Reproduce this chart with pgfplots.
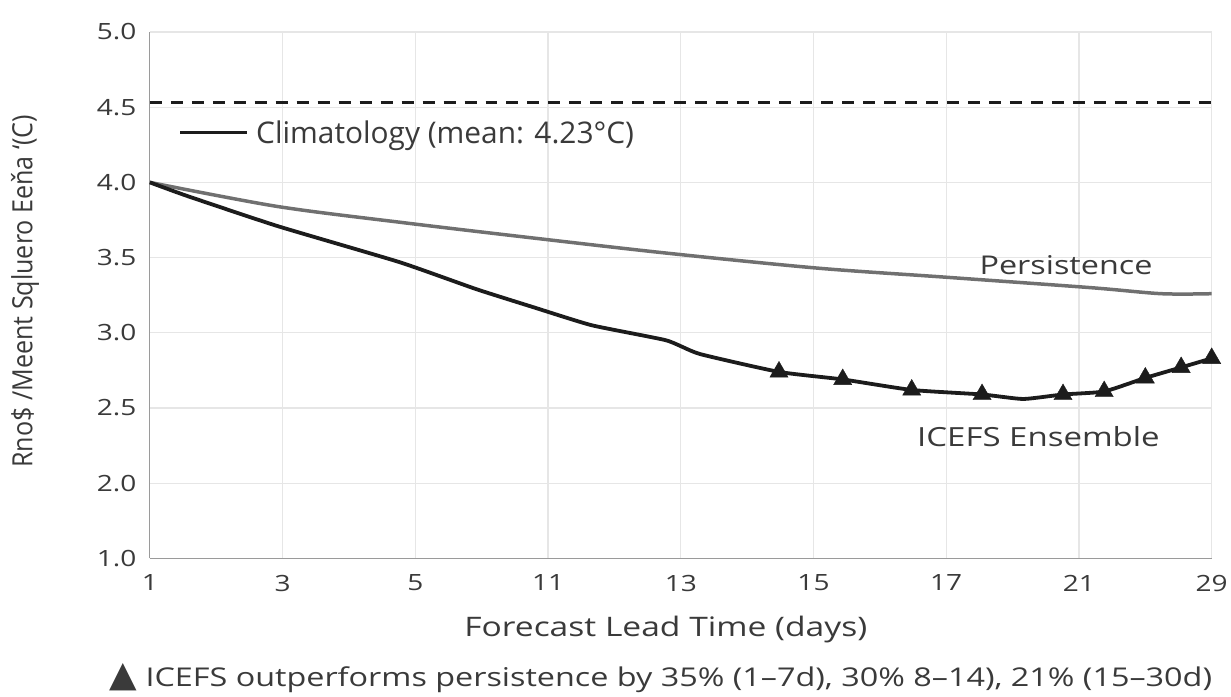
\documentclass[border=0pt]{standalone}
\usepackage{fontspec}
\setmainfont{Open Sans}[FakeStretch=1.25]
\newfontfamily\plainfont{Open Sans}
\newfontfamily\condfont[FakeStretch=0.9]{Open Sans}
\newfontfamily\symfont{DejaVu Sans}
\usepackage{pgfplots}
\pgfplotsset{compat=1.18}

\definecolor{txt}{HTML}{3A3A3A}
\definecolor{ensline}{HTML}{1C1C1C}
\definecolor{persline}{HTML}{707070}
\definecolor{gridc}{HTML}{E6E6E6}
\definecolor{axc}{HTML}{9A9A9A}

\newcommand{\fs}[1]{\fontsize{#1}{#1}\selectfont}

\begin{document}
\begin{tikzpicture}
\begin{axis}[
    name=ax,
    scale only axis,
    width=1063bp, height=527bp,
    xmin=0, xmax=8,
    ymin=1.5, ymax=5,
    xtick={0,...,8},
    xticklabels={1,3,5,11,13,15,17,21,29},
    ytick={1.5,2,2.5,3,3.5,4,4.5,5},
    yticklabels={1.0,2.0,2.5,3.0,3.5,4.0,4.5,5.0},
    major tick length=0pt,
    axis lines*=left,
    axis line style={axc, line width=1.3bp},
    grid=major,
    grid style={gridc, line width=1.2bp},
    tick label style={font=\fs{22.5}, text=txt},
    yticklabel style={xshift=-10bp},
    xticklabel style={yshift=-13bp},
    clip=false,
]

% climatology reference (dashed)
\addplot[ensline, line width=2.6bp, dash pattern=on 12bp off 9bp] coordinates {(0,4.53) (8,4.53)};

% persistence
\addplot[persline, line width=3.5bp, smooth] coordinates {
    (0,4.00) (0.96,3.84) (1.93,3.73) (2.89,3.63) (3.89,3.53)
    (5.03,3.43) (5.99,3.37) (7.09,3.30) (7.62,3.26) (8,3.26)
};

% ICEFS ensemble
\addplot[ensline, line width=3.8bp, smooth, tension=0.3] coordinates {
    (0,4.00) (0.28,3.91) (0.96,3.71) (1.88,3.47) (2.46,3.29) (2.89,3.17)
    (3.33,3.05) (3.89,2.95) (4.14,2.86) (4.74,2.74) (5.22,2.69)
    (5.74,2.62) (6.27,2.59) (6.58,2.56) (6.88,2.59) (7.19,2.61)
    (7.5,2.70) (7.77,2.77) (8,2.83)
};
\addplot[only marks, mark=triangle*, mark size=10.5bp, ensline] coordinates {
    (4.74,2.74) (5.22,2.69) (5.74,2.62) (6.27,2.59) (6.88,2.59)
    (7.19,2.61) (7.5,2.70) (7.77,2.77) (8,2.83)
};

% legend key and labels
\draw[ensline, line width=3.5bp] (axis cs:0.23,4.33) -- (axis cs:0.73,4.33);
\node[anchor=west, text=txt, font=\plainfont\fs{30}, inner sep=0pt] at (axis cs:0.80,4.31) {Climatology (mean: 4.23°C)};
\node[anchor=west, text=txt, font=\fs{26}, inner sep=0pt] at (axis cs:6.25,3.45) {Persistence};
\node[anchor=west, text=txt, font=\fs{26.5}, inner sep=0pt] at (axis cs:5.78,2.31) {ICEFS Ensemble};
\end{axis}

% axis titles and footnote
\node[rotate=90, text=txt, font=\condfont\fs{28}] at ([xshift=-125bp, yshift=4bp]ax.west) {Rno\$ /Meent Sqluero Eeňa ‘(C)};
\node[text=txt, font=\fs{27}] at ([xshift=-15bp, yshift=-71bp]ax.south) {Forecast Lead Time (days)};
\node[text=txt, font=\fs{26}] at ([xshift=-20bp, yshift=-120bp]ax.south) {{\symfont\fs{36}▲} ICEFS outperforms persistence by 35\% (1--7d), 30\% 8--14), 21\% (15--30d)};

\path[use as bounding box] ([shift={(-150bp,-134bp)}]ax.south west) rectangle ([shift={(18bp,32bp)}]ax.north east);
\end{tikzpicture}
\end{document}
